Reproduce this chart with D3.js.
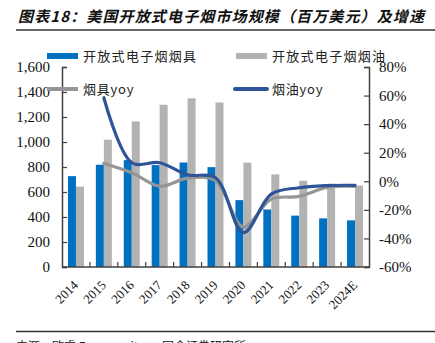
<!DOCTYPE html>
<html>
<head>
<meta charset="utf-8">
<script src="https://cdn.jsdelivr.net/npm/d3@7"></script>
<style>
  html, body { margin: 0; padding: 0; background: #fff; }
  svg { display: block; }
  .serif { font-family: "Liberation Serif", "Times New Roman", serif; }
  .cjk { font-family: "Noto Sans CJK SC", "Noto Sans", sans-serif; }
</style>
</head>
<body>
<svg id="chart" width="435" height="343"></svg>
<script>
const years = ["2014","2015","2016","2017","2018","2019","2020","2021","2022","2023","2024E"];
const hardware = [727, 818, 855, 815, 836, 799, 535, 460, 411, 389, 373];       // 开放式电子烟烟具
const liquid   = [642, 1018, 1165, 1298, 1349, 1316, 835, 741, 690, 667, 651];  // 开放式电子烟烟油
const yoyYears = ["2015","2016","2017","2018","2019","2020","2021","2022","2023","2024E"];
const hardwareYoy = [12.5, 6, -3.5, 2.2, 0.5, -32, -12.5, -10.6, -4.3, -3.5];   // 烟具yoy
const liquidYoy   = [58.5, 13, 13, 4.5, 2.5, -36, -9, -4.5, -3, -2.8];          // 烟油yoy
const leftTicks = [0, 200, 400, 600, 800, 1000, 1200, 1400, 1600];
const rightTicks = [-60, -40, -20, 0, 20, 40, 60, 80];

const title = "图表18：美国开放式电子烟市场规模（百万美元）及增速";
const source = "来源：欧睿 Euromonitor，国金证券研究所";
const legendNames = ["开放式电子烟烟具", "开放式电子烟烟油", "烟具yoy", "烟油yoy"];

const C = { blue: "#0070C0", gray: "#B3B3B3", blueLine: "#2E5597", grayLine: "#959595", axis: "#404040" };

const svg = d3.select("#chart");
const L = 62, R = 369, T = 67, B = 267;

const x = d3.scaleBand().domain(years).range([L, R]).padding(0);
const y = d3.scaleLinear().domain([0, 1600]).range([B, T]);
const y2 = d3.scaleLinear().domain([-60, 80]).range([B, T]);
const bw = 8;
const cx = d => x(d) + x.bandwidth() / 2;

// Title
svg.append("text").attr("class", "cjk")
  .attr("x", 18).attr("y", 22)
  .attr("font-size", 15).attr("font-weight", "bold").attr("font-style", "italic")
  .attr("fill", "#111")
  .attr("textLength", 406).attr("lengthAdjust", "spacing")
  .text(title);
svg.append("line").attr("x1", 16).attr("x2", 435).attr("y1", 30).attr("y2", 30)
  .attr("stroke", "#333").attr("stroke-width", 1.5);

// Bars
svg.append("g").selectAll("rect").data(years).join("rect")
  .attr("x", d => cx(d) - bw).attr("width", bw)
  .attr("y", (d, i) => y(hardware[i])).attr("height", (d, i) => B - y(hardware[i]))
  .attr("fill", C.blue);
svg.append("g").selectAll("rect").data(years).join("rect")
  .attr("x", d => cx(d)).attr("width", bw)
  .attr("y", (d, i) => y(liquid[i])).attr("height", (d, i) => B - y(liquid[i]))
  .attr("fill", C.gray);

// Lines
const line = (vals) => d3.line()
  .x((d, i) => cx(yoyYears[i]))
  .y(d => y2(d))
  .curve(d3.curveCatmullRom.alpha(0.5))(vals);
svg.append("path").attr("d", line(hardwareYoy)).attr("fill", "none")
  .attr("stroke", C.grayLine).attr("stroke-width", 3.2).attr("stroke-linecap", "round");
svg.append("path").attr("d", line(liquidYoy)).attr("fill", "none")
  .attr("stroke", C.blueLine).attr("stroke-width", 3.2).attr("stroke-linecap", "round");

// Axes
const gl = svg.append("g").attr("transform", `translate(${L},0)`)
  .call(d3.axisLeft(y).tickValues(leftTicks).tickSize(-5).tickPadding(12).tickFormat(d3.format(",")));
const gr = svg.append("g").attr("transform", `translate(${R},0)`)
  .call(d3.axisRight(y2).tickValues(rightTicks).tickSize(-5).tickPadding(10).tickFormat(d => d + "%"));
const gb = svg.append("g").attr("transform", `translate(0,${B})`)
  .call(d3.axisBottom(x).tickSize(0).tickPadding(0));
[gl, gr, gb].forEach(g => {
  g.selectAll("path.domain").attr("stroke", C.axis).attr("stroke-width", 1.5);
  g.selectAll(".tick line").attr("stroke", C.axis).attr("stroke-width", 1.2);
  g.selectAll("text").attr("class", "serif").attr("fill", "#111").attr("font-size", 15);
});
gb.select("path.domain").attr("d", `M${L},0H${R}`);
gb.selectAll(".tick text")
  .attr("font-size", 13).attr("text-anchor", "end")
  .attr("x", 0).attr("y", 0).attr("dy", 0)
  .attr("transform", "translate(3,19) rotate(-45)");
// category boundary ticks on x axis
svg.append("g").selectAll("line").data(years.slice(1)).join("line")
  .attr("x1", d => x(d)).attr("x2", d => x(d))
  .attr("y1", B).attr("y2", B - 5)
  .attr("stroke", C.axis).attr("stroke-width", 1.2);

// Legend
const lg = svg.append("g").attr("class", "cjk").attr("font-size", 13).attr("fill", "#222");
lg.append("rect").attr("x", 47).attr("y", 53).attr("width", 31).attr("height", 6).attr("fill", C.blue);
lg.append("rect").attr("x", 236).attr("y", 53).attr("width", 31).attr("height", 6).attr("fill", C.gray);
lg.append("line").attr("x1", 47).attr("x2", 78).attr("y1", 89).attr("y2", 89)
  .attr("stroke", C.grayLine).attr("stroke-width", 4);
lg.append("line").attr("x1", 235).attr("x2", 267).attr("y1", 89).attr("y2", 89)
  .attr("stroke", C.blueLine).attr("stroke-width", 4).attr("stroke-linecap", "round");
const lpos = [[83, 61], [272, 61], [83, 94], [272, 94]];
legendNames.forEach((n, i) => {
  lg.append("text").attr("x", lpos[i][0]).attr("y", lpos[i][1])
    .attr("letter-spacing", i < 2 ? 1.3 : 0.8).attr("fill", "#222").text(n);
});

// Footer
svg.append("line").attr("x1", 16).attr("x2", 435).attr("y1", 331.5).attr("y2", 331.5)
  .attr("stroke", "#333").attr("stroke-width", 1.5);
svg.append("text").attr("class", "cjk").attr("x", 16).attr("y", 351)
  .attr("font-size", 12).attr("fill", "#222").text(source);
</script>
</body>
</html>
